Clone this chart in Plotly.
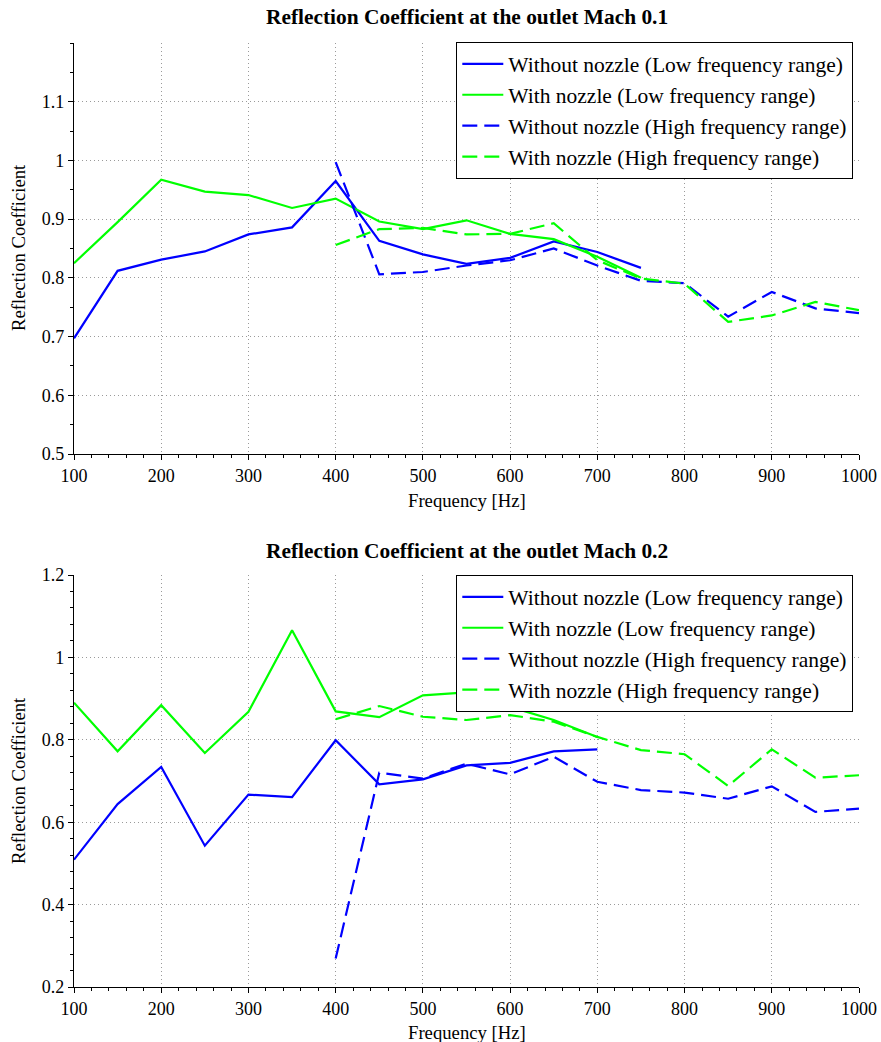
import plotly.graph_objects as go

# ---------------- data ----------------
freq_low = [100, 150, 200, 250, 300, 350, 400, 450, 500, 550, 600, 650, 700, 750]
freq_high = [400, 450, 500, 550, 600, 650, 700, 750, 800, 850, 900, 950, 1000]

# Mach 0.1
m1_without_low = [0.697, 0.812, 0.831, 0.845, 0.874, 0.886, 0.965, 0.863, 0.840, 0.824, 0.834, 0.862, 0.844, 0.817]
m1_with_low = [0.825, 0.895, 0.967, 0.947, 0.941, 0.919, 0.935, 0.896, 0.883, 0.898, 0.875, 0.866, 0.836, 0.800]
m1_without_high = [0.997, 0.806, 0.810, 0.821, 0.830, 0.850, 0.821, 0.795, 0.791, 0.734, 0.776, 0.748, 0.740]
m1_with_high = [0.856, 0.883, 0.885, 0.874, 0.875, 0.893, 0.830, 0.799, 0.790, 0.725, 0.736, 0.759, 0.745]

# Mach 0.2
freq_low2 = [100, 150, 200, 250, 300, 350, 400, 450, 500, 550, 600, 650, 700]
m2_without_low = [0.509, 0.644, 0.734, 0.543, 0.667, 0.661, 0.799, 0.692, 0.704, 0.738, 0.744, 0.772, 0.777]
m2_with_low = [0.890, 0.772, 0.884, 0.768, 0.868, 1.066, 0.869, 0.855, 0.908, 0.915, 0.880, 0.848, 0.807]
m2_without_high = [0.269, 0.720, 0.706, 0.742, 0.716, 0.759, 0.698, 0.678, 0.672, 0.657, 0.687, 0.625, 0.633]
m2_with_high = [0.850, 0.882, 0.856, 0.848, 0.860, 0.844, 0.807, 0.775, 0.765, 0.688, 0.777, 0.708, 0.714]

names = [
    "Without nozzle (Low frequency range)",
    "With nozzle (Low frequency range)",
    "Without nozzle (High frequency range)",
    "With nozzle (High frequency range)",
]
titles = ["Reflection Coefficient at the outlet Mach 0.1",
          "Reflection Coefficient at the outlet Mach 0.2"]
y1_ticks = [0.5, 0.6, 0.7, 0.8, 0.9, 1.0, 1.1]

BLUE = "#0000ff"
GREEN = "#00ff00"
DASH = "15px,7px"
FONT = "Liberation Serif"

W, H = 881, 1042
ML, MR, MT, MB = 74, 22, 43, 55
PH = H - MT - MB
PW = W - ML - MR


def py(pix):
    return (H - MB - pix) / PH


def px(pix):
    return (pix - ML) / PW


fig = go.Figure()

series = [
    ("x", "y", "legend", freq_low, m1_without_low, m1_with_low, m1_without_high, m1_with_high),
    ("x2", "y2", "legend2", freq_low2, m2_without_low, m2_with_low, m2_without_high, m2_with_high),
]
for xa, ya, lg, fl, wol, wl, woh, wh in series:
    fig.add_trace(go.Scatter(x=fl, y=wol, mode="lines", name=names[0], xaxis=xa, yaxis=ya, legend=lg,
                             line=dict(color=BLUE, width=2.2)))
    fig.add_trace(go.Scatter(x=fl, y=wl, mode="lines", name=names[1], xaxis=xa, yaxis=ya, legend=lg,
                             line=dict(color=GREEN, width=2.2)))
    fig.add_trace(go.Scatter(x=freq_high, y=woh, mode="lines", name=names[2], xaxis=xa, yaxis=ya, legend=lg,
                             line=dict(color=BLUE, width=2.2, dash=DASH)))
    fig.add_trace(go.Scatter(x=freq_high, y=wh, mode="lines", name=names[3], xaxis=xa, yaxis=ya, legend=lg,
                             line=dict(color=GREEN, width=2.2, dash=DASH)))

axis_common = dict(
    showline=True, linecolor="black", linewidth=1.2, mirror=False,
    ticks="outside", ticklen=5, tickcolor="black", tickwidth=1,
    showgrid=True, gridcolor="#9a9a9a", griddash="1px,3px", gridwidth=1,
    zeroline=False, automargin=False,
    tickfont=dict(family=FONT, size=18, color="black"),
)

xaxis = dict(axis_common, range=[100, 1000], tickmode="linear", tick0=100, dtick=100,
             minor=dict(dtick=20, tick0=100, ticklen=3, tickcolor="black", ticks="outside", showgrid=False))

legend_common = dict(
    font=dict(family=FONT, size=21.5, color="black"),
    bgcolor="white", bordercolor="black", borderwidth=1.3,
    xanchor="left", yanchor="top", tracegroupgap=0, itemwidth=41,
)

fig.update_layout(
    width=W, height=H,
    margin=dict(l=ML, r=MR, t=MT, b=MB),
    plot_bgcolor="white", paper_bgcolor="white",
    font=dict(family=FONT, color="black"),
    xaxis=dict(xaxis, domain=[0, 1], anchor="y"),
    xaxis2=dict(xaxis, domain=[0, 1], anchor="y2"),
    yaxis=dict(axis_common, domain=[py(454), 1.0], anchor="x", range=[0.5, 1.2],
               tickvals=y1_ticks,
               minor=dict(dtick=0.05, tick0=0.5, ticklen=3, tickcolor="black", ticks="outside", showgrid=False)),
    yaxis2=dict(axis_common, domain=[0, py(575)], anchor="x2", range=[0.2, 1.2],
                tickmode="linear", tick0=0.2, dtick=0.2,
                minor=dict(dtick=0.04, tick0=0.2, ticklen=3, tickcolor="black", ticks="outside", showgrid=False)),
    legend=dict(legend_common, x=px(456), y=py(42)),
    legend2=dict(legend_common, x=px(456), y=py(575)),
    showlegend=True,
)

annotations = []
for ttl, ty, xt_y, ymid in [(titles[0], 17, 500, 248), (titles[1], 551, 1032, 781)]:
    annotations.append(dict(text="<b>" + ttl + "</b>", xref="paper", yref="paper", x=0.5, y=py(ty),
                            xanchor="center", yanchor="middle", showarrow=False,
                            font=dict(family=FONT, size=21.4, color="black")))
    annotations.append(dict(text="Frequency [Hz]", xref="paper", yref="paper", x=0.5, y=py(xt_y),
                            xanchor="center", yanchor="middle", showarrow=False,
                            font=dict(family=FONT, size=18.7, color="black")))
    annotations.append(dict(text="Reflection Coefficient", xref="paper", yref="paper",
                            x=px(18), y=py(ymid), textangle=-90,
                            xanchor="center", yanchor="middle", showarrow=False,
                            font=dict(family=FONT, size=18.7, color="black")))
fig.update_layout(annotations=annotations)

fig.write_html("out.html")
